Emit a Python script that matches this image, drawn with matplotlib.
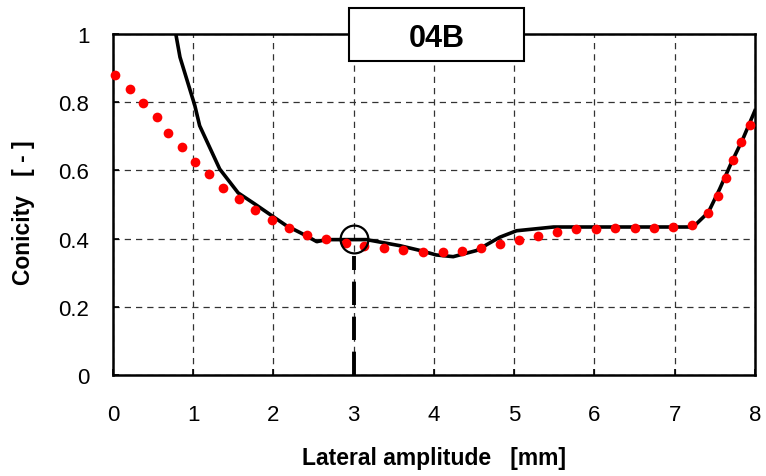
import matplotlib
matplotlib.use("Agg")
import matplotlib.pyplot as plt
from matplotlib.patches import Rectangle

plt.rcParams['font.family'] = ['Liberation Sans', 'DejaVu Sans']

# Dados
x_pontos = [0.03, 0.21, 0.38, 0.55, 0.69, 0.86, 1.02, 1.20, 1.37, 1.57, 1.77, 1.98, 2.19, 2.42,
            2.66, 2.91, 3.13, 3.38, 3.62, 3.86, 4.11, 4.35, 4.59, 4.82, 5.06, 5.30, 5.53, 5.77,
            6.02, 6.26, 6.50, 6.74, 6.98, 7.22, 7.41, 7.54, 7.64, 7.73, 7.83, 7.94]
y_pontos = [0.880, 0.839, 0.797, 0.756, 0.710, 0.669, 0.625, 0.588, 0.548, 0.515, 0.483, 0.454,
            0.431, 0.411, 0.398, 0.387, 0.379, 0.372, 0.367, 0.362, 0.360, 0.365, 0.372, 0.383,
            0.395, 0.408, 0.420, 0.427, 0.429, 0.430, 0.431, 0.431, 0.433, 0.441, 0.476, 0.526,
            0.577, 0.630, 0.682, 0.733]

x_linha = [0.76, 0.835, 1.02, 1.08, 1.33, 1.56, 1.77, 1.98, 2.16, 2.37, 2.54, 2.66, 2.83, 3.16,
           3.58, 3.83, 4.03, 4.24, 4.53, 4.82, 5.03, 5.49, 6.0, 6.5, 7.0, 7.23, 7.42, 7.56,
           7.71, 7.85, 8.0]
y_linha = [1.03, 0.932, 0.79, 0.731, 0.604, 0.534, 0.501, 0.467, 0.438, 0.413, 0.391, 0.397,
           0.397, 0.397, 0.379, 0.365, 0.352, 0.347, 0.365, 0.404, 0.423, 0.434, 0.434, 0.434,
           0.434, 0.434, 0.477, 0.545, 0.624, 0.692, 0.775]

x_sel = 3.0
y_sel = 0.4
titulo = "04B"

fig = plt.figure(figsize=(7.66, 4.77), dpi=100)
ax = fig.add_axes([0.1475, 0.2117, 0.838, 0.715])

ax.plot(x_linha, y_linha, color='black', lw=2.6, zorder=3)
ax.plot(x_pontos, y_pontos, 'o', color='red', ms=7, mec='none', zorder=4, clip_on=False)
ax.plot([x_sel, x_sel], [0, 0.35], color='black', lw=2.8, ls=(0, (6, 3)), zorder=5)
ax.plot([x_sel], [y_sel], 'o', mfc='none', mec='black', mew=1.6, ms=20, zorder=6)

ax.set_xlim(0, 8)
ax.set_ylim(0, 1)
ax.set_xticks(range(0, 9))
ax.set_yticks([0, 0.2, 0.4, 0.6, 0.8, 1])
ax.set_yticklabels(['0', '0.2', '0.4', '0.6', '0.8', '1'])
ax.tick_params(direction='in', length=4, width=1.2, labelsize=16, colors='black')
ax.tick_params(axis='x', pad=21)
ax.tick_params(axis='y', pad=17)
ax.grid(True, color='#333333', ls=(0, (5, 4)), lw=0.9)
for s in ax.spines.values():
    s.set_linewidth(1.8)

ax.set_xlabel("Lateral amplitude   [mm]", fontsize=16.5, fontweight='bold', va='center')
ax.xaxis.set_label_coords(0.5, -0.243)
ax.set_ylabel("Conicity   [ - ]", fontsize=16.5, fontweight='bold', va='center')
ax.yaxis.set_label_coords(-0.140, 0.48)

# caixa do titulo, sobre a borda superior
fig.patches.append(Rectangle((0.4556, 0.8706), 0.2285, 0.1099, transform=fig.transFigure,
                             fc='white', ec='black', lw=1.5, zorder=10))
fig.text(0.5703, 0.9178, titulo, ha='center', va='center', fontsize=22, fontweight='bold',
         zorder=11)

fig.savefig("out.png", dpi=100)
